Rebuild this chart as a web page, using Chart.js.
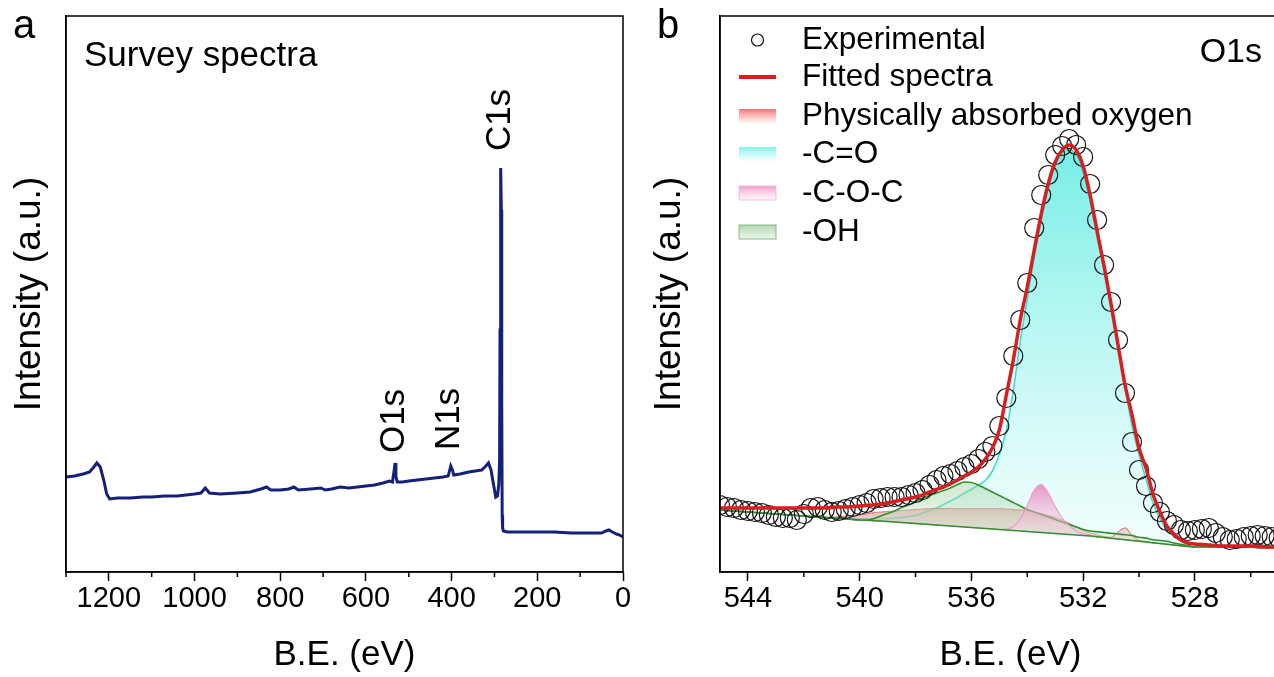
<!DOCTYPE html>
<html>
<head>
<meta charset="utf-8">
<script src="https://cdn.jsdelivr.net/npm/chart.js@4.4.0/dist/chart.umd.min.js"></script>
<style>
    html, body { margin: 0; padding: 0; background: #fff; overflow: hidden; }
    #wrap { position: relative; width: 1274px; height: 677px; overflow: hidden; }
    #chartA { position: absolute; left: 0; top: 0; }
    #chartB { position: absolute; left: 640px; top: 0; }
</style>
</head>
<body>
<div id="wrap">
    <canvas id="chartA" width="640" height="677"></canvas>
    <canvas id="chartB" width="680" height="677"></canvas>
</div>
<script>
// Panel a : spectre survey
const surveyBE = [1300, 1280, 1260, 1245, 1235, 1228, 1220, 1212, 1205, 1198,
    1180, 1150, 1120, 1100, 1070, 1040, 1000, 985, 975, 965,
    940, 900, 870, 845, 832, 822, 800, 780, 768, 758,
    730, 705, 695, 680, 660, 640, 620, 600, 580, 560,
    545, 538, 534, 532, 530, 527, 515, 500, 480, 460,
    440, 420, 408, 402, 398, 395, 380, 360, 345, 330,
    320, 314, 308, 302, 297, 293, 290, 288, 287, 286,
    285, 284, 283, 282, 281, 279, 270, 240, 200, 160,
    120, 80, 50, 40, 33, 25, 15, 8, 0];
const surveyCounts = [95, 96, 98, 100, 105, 109, 105, 92, 78, 73,
    74, 74, 75, 75, 76, 76, 78, 79, 84, 79,
    78, 79, 80, 83, 85, 82, 82, 83, 85, 82,
    83, 84, 82, 83, 85, 84, 85, 86, 87, 89,
    91, 90, 102, 109, 96, 90, 90, 91, 92, 93,
    94, 95, 96, 106, 102, 97, 98, 100, 101, 102,
    106, 109, 102, 87, 75, 76, 87, 112, 242, 372,
    404, 362, 172, 57, 44, 41, 40, 40, 40, 40,
    39, 39, 39, 41, 42, 40, 38, 37, 35];
const peakNames = ['C1s', 'O1s', 'N1s'];
const peakBE = [285, 532, 402];
const peakTop = [404, 109, 106];

// Panel b : O1s haute résolution
const o1sBE = [545, 544.75, 544.5, 544.25, 544, 543.75, 543.5, 543.25, 543, 542.75,
    542.5, 542.25, 542, 541.75, 541.5, 541.25, 541, 540.75, 540.5, 540.25,
    540, 539.75, 539.5, 539.25, 539, 538.75, 538.5, 538.25, 538, 537.75,
    537.5, 537.25, 537, 536.75, 536.5, 536.25, 536, 535.75, 535.5, 535.25,
    535, 534.75, 534.5, 534.25, 534, 533.75, 533.5, 533.25, 533, 532.75,
    532.5, 532.25, 532, 531.75, 531.5, 531.25, 531, 530.75, 530.5, 530.25,
    530, 529.75, 529.5, 529.25, 529, 528.75, 528.5, 528.25, 528, 527.75,
    527.5, 527.25, 527, 526.75, 526.5, 526.25, 526, 525.75, 525.5, 525.25,
    525, 524.75, 524.5];
const experimental = [67, 65, 64, 62, 61, 60, 59, 57, 55, 54,
    54, 52, 58, 64, 65, 62, 60, 61, 63, 65,
    67, 69, 73, 74, 75, 75, 75, 77, 79, 82,
    87, 92, 96, 98, 101, 105, 108, 113, 120, 126,
    146, 174, 216, 252, 289, 344, 377, 397, 417, 426,
    433, 427, 415, 388, 352, 307, 270, 232, 179, 130,
    102, 86, 69, 60, 51, 47, 42, 41, 42, 43,
    44, 39, 35, 32, 33, 35, 36, 37, 36, 35,
    34, 35, 34];
const fitted = [64, 64, 64, 64, 64, 64, 64, 64, 64, 64,
    64, 64, 64, 64, 64, 64, 64.5, 65, 65, 65.5,
    66, 66.5, 67, 68, 69, 70.5, 72, 73.5, 75, 77,
    80, 82.5, 85, 88, 92, 96, 100, 105, 113, 124,
    142, 177, 212, 252, 285, 322, 358, 388, 410, 422,
    427, 422, 406, 377, 341, 306, 268, 227, 187, 157,
    124, 104, 78, 60, 46, 38, 32, 29, 28, 27.5,
    27, 26.5, 26, 26, 26, 26, 26, 25.5, 25, 25,
    25, 24, 24];
const background = [62, 61.5, 61, 60.5, 60, 59.5, 59, 58.5, 58, 57.5,
    57, 56.5, 56, 55.5, 55, 54.5, 54, 53.5, 53, 52.5,
    52, 51.7, 51.3, 51, 50.5, 50, 49.5, 49, 48.5, 48,
    47.5, 47, 46.5, 46, 45.5, 45, 44.5, 44, 43.5, 43,
    42.5, 42, 41.5, 41, 40.5, 40, 39.5, 39, 38.5, 38,
    37.5, 37, 36.5, 36, 35.2, 34.5, 33.7, 33, 32.2, 31.5,
    30.7, 30, 29.2, 28.5, 27.7, 27, 26.2, 25.5, 25, 25,
    25, 25, 25, 25, 25, 25, 25, 24.5, 24.5, 24.5,
    24.5, 24, 24];
// hauteurs des composantes au-dessus du fond
const physOxygen = [0, 0, 0, 0, 0, 0, 0, 0, 0, 0,
    0, 0, 0, 0, 0, 0, 1, 2, 3, 4,
    5, 6.5, 8, 9, 10, 11, 12, 13, 14, 15,
    16, 16.5, 17, 17.5, 18, 18.5, 19, 19.5, 20, 20.5,
    21, 21, 21, 21, 21, 20, 19, 17.5, 16, 14,
    11, 8, 5, 3, 2, 1, 1, 7, 12, 5,
    1, 0.5, 0, 0, 0, 0, 0, 0, 0, 0,
    0, 0, 0, 0, 0, 0, 0, 0, 0, 0,
    0, 0, 0];
const carbonyl = [0, 0, 0, 0, 0, 0, 0, 0, 0, 0,
    0, 0, 0, 0, 0, 0, 0.5, 0.5, 0.8, 1,
    1, 1.5, 2, 2.5, 3, 4, 5, 6.5, 8, 11,
    14, 17, 21, 25, 29, 34, 38, 43, 48, 58,
    75, 100, 140, 190, 232, 275, 312, 345, 368, 381,
    385, 380, 363, 335, 300, 267, 230, 192, 152, 115,
    87, 63, 40, 25, 15, 9, 5, 3, 2, 1.5,
    1, 0.5, 0, 0, 0, 0, 0, 0, 0, 0,
    0, 0, 0];
const ether = [0, 0, 0, 0, 0, 0, 0, 0, 0, 0,
    0, 0, 0, 0, 0, 0, 0, 0, 0, 0,
    0, 0, 0, 0, 0, 0, 0, 0, 0, 0,
    0, 0, 0, 0, 0, 0, 0, 0, 0, 0,
    0, 1, 4, 12, 26, 42, 48, 40, 27, 16,
    9, 4, 2, 1, 0, 0, 0, 0, 0, 0,
    0, 0, 0, 0, 0, 0, 0, 0, 0, 0,
    0, 0, 0, 0, 0, 0, 0, 0, 0, 0,
    0, 0, 0];
const hydroxyl = [0, 0, 0, 0, 0, 0, 0, 0, 0, 0,
    0, 0, 0, 0, 0, 0, 0, 0, 0, 0,
    0, 0, 2, 5, 8, 11, 15, 18, 22, 26,
    29, 32, 35, 38, 42, 45, 45, 43, 40, 37,
    34, 31, 28, 25, 22, 20, 18, 16, 14, 12,
    10, 8, 6, 5, 5, 5, 5, 5, 5, 5,
    4, 4, 3, 3, 3, 2, 1.5, 1, 0, 0,
    0, 0, 0, 0, 0, 0, 0, 0, 0, 0,
    0, 0, 0];
const legendLabels = ['Experimental', 'Fitted spectra', 'Physically absorbed oxygen', '-C=O', '-C-O-C', '-OH'];

const FONT = "'Liberation Sans', Arial, sans-serif";
Chart.defaults.font.family = FONT;
Chart.defaults.color = '#000';

function toPoints(xs, ys) {
    return xs.map(function(x, i) { return { x: x, y: ys[i] }; });
}

function onBackground(extra) {
    return background.map(function(b, i) { return b + extra[i]; });
}

// dégradé vertical dans les unités de l'axe y
function vGrad(chart, vTop, vBottom, cTop, cBottom) {
    const ys = chart.scales.y;
    if (!ys || !chart.chartArea) return cBottom;
    const g = chart.ctx.createLinearGradient(0, ys.getPixelForValue(vTop), 0, ys.getPixelForValue(vBottom));
    g.addColorStop(0, cTop);
    g.addColorStop(1, cBottom);
    return g;
}

// cadre autour de la zone de tracé
const framePlugin = {
    id: 'frame',
    afterDatasetsDraw(chart) {
        const a = chart.chartArea, ctx = chart.ctx;
        ctx.save();
        ctx.strokeStyle = '#000';
        ctx.lineWidth = 1.5;
        ctx.strokeRect(a.left, a.top, a.right - a.left, a.bottom - a.top);
        ctx.restore();
    }
};

// petites graduations secondaires
function minorTicksPlugin(isMajor) {
    return {
        id: 'minorTicks',
        afterDraw(chart) {
            const xs = chart.scales.x, ctx = chart.ctx, y0 = chart.chartArea.bottom;
            ctx.save();
            ctx.strokeStyle = '#000';
            ctx.lineWidth = 1.5;
            xs.ticks.forEach(function(t) {
                if (isMajor(t.value)) return;
                const px = xs.getPixelForValue(t.value);
                ctx.beginPath();
                ctx.moveTo(px, y0);
                ctx.lineTo(px, y0 + 5);
                ctx.stroke();
            });
            ctx.restore();
        }
    };
}

function xAxis(min, max, step, isMajor, height) {
    return {
        type: 'linear',
        min: min,
        max: max,
        reverse: true,
        afterFit: function(s) { s.height = height; },
        ticks: {
            stepSize: step,
            autoSkip: false,
            maxRotation: 0,
            includeBounds: false,
            padding: 1,
            font: { size: 29 },
            color: '#000',
            callback: function(v) { return isMajor(v) ? String(v) : ''; }
        },
        grid: {
            drawOnChartArea: false,
            drawTicks: true,
            tickLength: 9,
            tickWidth: 1.5,
            tickColor: function(c) {
                return (c.tick && isMajor(c.tick.value)) ? '#000' : 'rgba(0,0,0,0)';
            }
        },
        border: { color: '#000', width: 1.5 },
        title: {
            display: true,
            text: 'B.E. (eV)',
            font: { size: 35 },
            color: '#000',
            padding: { top: 0, bottom: 1 }
        }
    };
}

function yAxis(width) {
    return {
        type: 'linear',
        min: 0,
        max: 556,
        afterFit: function(s) { s.width = width; },
        ticks: { display: false },
        grid: { display: false },
        border: { color: '#000', width: 1.5 },
        title: {
            display: true,
            text: 'Intensity (a.u.)',
            font: { size: 37 },
            color: '#000',
            padding: { top: 8, bottom: 0 }
        }
    };
}

// ---------- Panel a ----------
const isMajorA = function(v) { return Math.round(v) % 200 === 0; };

const textA = {
    id: 'textA',
    afterDraw(chart) {
        const ctx = chart.ctx, xs = chart.scales.x, ys = chart.scales.y;
        const gaps = [48, 42, 47];
        ctx.save();
        ctx.fillStyle = '#000';
        ctx.font = '40px ' + FONT;
        ctx.textAlign = 'center';
        ctx.textBaseline = 'alphabetic';
        ctx.fillText('a', 24, 38);
        ctx.font = '35px ' + FONT;
        ctx.textAlign = 'left';
        ctx.fillText('Survey spectra', 84, 66);
        peakNames.forEach(function(name, i) {
            const px = xs.getPixelForValue(peakBE[i]);
            const py = ys.getPixelForValue(peakTop[i]) - gaps[i];
            ctx.save();
            ctx.translate(px - 1, py);
            ctx.rotate(-Math.PI / 2);
            ctx.textAlign = 'center';
            ctx.textBaseline = 'middle';
            ctx.fillText(name, 0, 0);
            ctx.restore();
        });
        ctx.restore();
    }
};

new Chart(document.getElementById('chartA'), {
    type: 'line',
    data: {
        datasets: [{
            data: toPoints(surveyBE, surveyCounts),
            borderColor: '#14207a',
            borderWidth: 3,
            pointRadius: 0,
            tension: 0,
            fill: false
        }]
    },
    options: {
        responsive: false,
        animation: false,
        devicePixelRatio: 1,
        layout: { padding: { top: 16, right: 17, left: 0, bottom: 0 } },
        plugins: { legend: { display: false }, tooltip: { enabled: false } },
        scales: {
            x: xAxis(0, 1300, 100, isMajorA, 105),
            y: yAxis(66)
        }
    },
    plugins: [framePlugin, minorTicksPlugin(isMajorA), textA]
});

// ---------- Panel b ----------
const isMajorB = function(v) { return Math.abs((544 - v) % 4) < 0.01; };

const legendB = {
    id: 'legendB',
    afterDraw(chart) {
        const ctx = chart.ctx;
        const rows = [40, 77, 116, 154, 193, 232];
        const sx = 99, sw = 37, sh = 14, tx = 162;
        ctx.save();
        ctx.fillStyle = '#000';
        ctx.font = '40px ' + FONT;
        ctx.textAlign = 'center';
        ctx.textBaseline = 'alphabetic';
        ctx.fillText('b', 28, 38);

        ctx.font = '34px ' + FONT;
        ctx.textAlign = 'right';
        ctx.fillText('O1s', 622, 62);

        // symboles
        ctx.lineWidth = 1.2;
        ctx.strokeStyle = '#111';
        ctx.beginPath();
        ctx.arc(sx + sw / 2, rows[0], 6, 0, Math.PI * 2);
        ctx.stroke();

        ctx.strokeStyle = '#d81e1e';
        ctx.lineWidth = 4;
        ctx.beginPath();
        ctx.moveTo(sx, rows[1]);
        ctx.lineTo(sx + sw, rows[1]);
        ctx.stroke();

        const swatches = [
            ['rgba(238,100,100,0.9)', 'rgba(255,235,235,0.6)', null],
            ['rgba(120,240,232,0.9)', 'rgba(235,253,252,0.6)', null],
            ['rgba(238,150,200,0.9)', 'rgba(255,240,248,0.6)', 'rgba(238,180,215,0.8)'],
            ['rgba(175,210,175,0.9)', 'rgba(230,242,230,0.8)', 'rgba(120,180,120,0.9)']
        ];
        swatches.forEach(function(s, i) {
            const cy = rows[i + 2];
            const g = ctx.createLinearGradient(0, cy - sh / 2, 0, cy + sh / 2);
            g.addColorStop(0, s[0]);
            g.addColorStop(1, s[1]);
            ctx.fillStyle = g;
            ctx.fillRect(sx, cy - sh / 2, sw, sh);
            if (s[2]) {
                ctx.strokeStyle = s[2];
                ctx.lineWidth = 1;
                ctx.strokeRect(sx, cy - sh / 2, sw, sh);
            }
        });

        ctx.fillStyle = '#000';
        ctx.font = '31.5px ' + FONT;
        ctx.textAlign = 'left';
        ctx.textBaseline = 'middle';
        legendLabels.forEach(function(label, i) {
            ctx.fillText(label, tx, rows[i]);
        });
        ctx.restore();
    }
};

new Chart(document.getElementById('chartB'), {
    type: 'line',
    data: {
        datasets: [{
            // 0 expérimental
            data: toPoints(o1sBE, experimental),
            showLine: false,
            pointStyle: 'circle',
            pointRadius: 9.5,
            pointBorderWidth: 1.2,
            pointBorderColor: '#151515',
            pointBackgroundColor: 'rgba(255,255,255,0)',
            order: 1
        }, {
            // 1 courbe ajustée
            data: toPoints(o1sBE, fitted),
            borderColor: '#d81e1e',
            borderWidth: 3.5,
            pointRadius: 0,
            cubicInterpolationMode: 'monotone',
            fill: false,
            order: 0
        }, {
            // 2 oxygène physisorbé
            data: toPoints(o1sBE, onBackground(physOxygen)),
            borderColor: 'rgba(215,90,90,0.7)',
            borderWidth: 1.2,
            pointRadius: 0,
            cubicInterpolationMode: 'monotone',
            fill: 6,
            backgroundColor: function(c) {
                return vGrad(c.chart, 75, 28, 'rgba(220,110,110,0.6)', 'rgba(240,205,205,0.4)');
            },
            order: 5
        }, {
            // 3 -C=O
            data: toPoints(o1sBE, onBackground(carbonyl)),
            borderColor: 'rgba(60,222,208,1)',
            borderWidth: 1.6,
            pointRadius: 0,
            cubicInterpolationMode: 'monotone',
            fill: 6,
            backgroundColor: function(c) {
                return vGrad(c.chart, 420, 40, 'rgba(95,236,226,0.85)', 'rgba(225,252,250,0.55)');
            },
            order: 6
        }, {
            // 4 -C-O-C
            data: toPoints(o1sBE, onBackground(ether)),
            borderColor: 'rgba(235,150,200,0.9)',
            borderWidth: 1.2,
            pointRadius: 0,
            cubicInterpolationMode: 'monotone',
            fill: 6,
            backgroundColor: function(c) {
                return vGrad(c.chart, 88, 35, 'rgba(232,120,185,0.8)', 'rgba(250,220,235,0.3)');
            },
            order: 3
        }, {
            // 5 -OH
            data: toPoints(o1sBE, onBackground(hydroxyl)),
            borderColor: '#2f8f2f',
            borderWidth: 1.6,
            pointRadius: 0,
            cubicInterpolationMode: 'monotone',
            fill: 6,
            backgroundColor: function(c) {
                return vGrad(c.chart, 90, 30, 'rgba(150,205,150,0.45)', 'rgba(215,235,215,0.35)');
            },
            order: 4
        }, {
            // 6 fond
            data: toPoints(o1sBE, background),
            borderColor: '#2f8f2f',
            borderWidth: 1.6,
            pointRadius: 0,
            tension: 0,
            fill: false,
            order: 2
        }]
    },
    options: {
        responsive: false,
        animation: false,
        devicePixelRatio: 1,
        layout: { padding: { top: 16, right: 19, left: 0, bottom: 0 } },
        plugins: { legend: { display: false }, tooltip: { enabled: false } },
        scales: {
            x: xAxis(524.2, 545, 2, isMajorB, 105),
            y: yAxis(80)
        }
    },
    plugins: [framePlugin, minorTicksPlugin(isMajorB), legendB]
});
</script>
</body>
</html>
